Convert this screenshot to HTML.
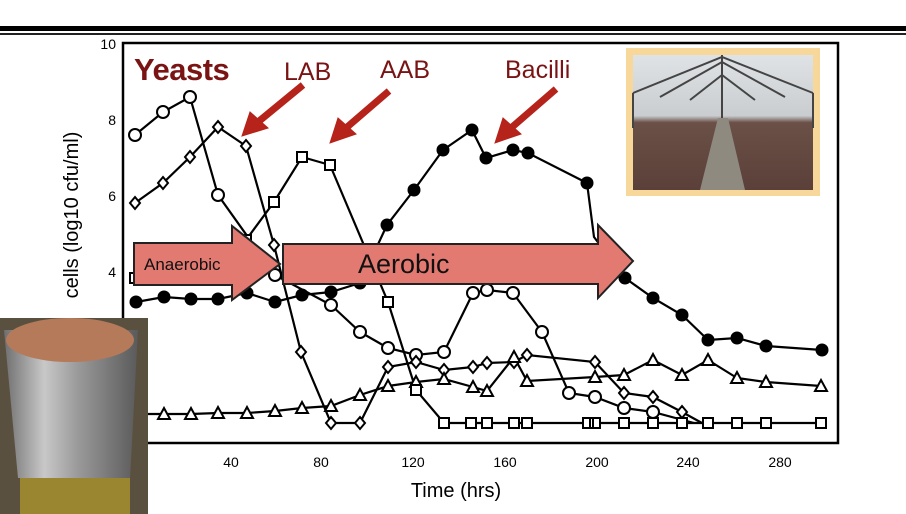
<!DOCTYPE html>
<html><head><meta charset="utf-8"><style>
html,body{margin:0;padding:0;background:#fff;width:906px;height:514px;overflow:hidden}
svg{display:block}
text{font-family:"Liberation Sans",sans-serif}
</style></head><body>
<svg width="906" height="514" viewBox="0 0 906 514" xmlns="http://www.w3.org/2000/svg">
<defs>
<linearGradient id="sky" x1="0" y1="0" x2="0" y2="1"><stop offset="0" stop-color="#dfe3e6"/><stop offset="0.45" stop-color="#c9cdd0"/><stop offset="0.5" stop-color="#6b5048"/><stop offset="1" stop-color="#5a4038"/></linearGradient>
<linearGradient id="can" x1="0" y1="0" x2="1" y2="0"><stop offset="0" stop-color="#6f6f6f"/><stop offset="0.3" stop-color="#c8c8c8"/><stop offset="0.55" stop-color="#9a9a9a"/><stop offset="1" stop-color="#5a5a5a"/></linearGradient>
</defs>
<rect x="0" y="26" width="906" height="5" fill="#000"/>
<rect x="0" y="33" width="906" height="2" fill="#222"/>
<rect x="123" y="43" width="715" height="400" fill="none" stroke="#000" stroke-width="2.5"/>
<g font-size="14" fill="#000" text-anchor="end">
<text x="116" y="49">10</text><text x="116" y="125">8</text><text x="116" y="201">6</text><text x="116" y="277">4</text>
</g>
<g font-size="14" fill="#000" text-anchor="middle">
<text x="231" y="467">40</text><text x="321" y="467">80</text><text x="413" y="467">120</text><text x="505" y="467">160</text><text x="597" y="467">200</text><text x="688" y="467">240</text><text x="780" y="467">280</text>
</g>
<text x="456" y="497" font-size="20" text-anchor="middle">Time (hrs)</text>
<text transform="translate(78,215) rotate(-90)" font-size="20" text-anchor="middle">cells (log10 cfu/ml)</text>
<g fill="none" stroke="#000" stroke-width="2.2">
<polyline points="135,135 163,112 190,97 218,195 275,275 331,305 360,332 388,348 416,355 444,352 473,293 487,290 513,293 542,332 569,393 595,397 624,408 653,412 694,423"/>
<polyline points="135,203 163,183 190,157 218,127 246,146 274,245 301,352 331,423 360,423 388,367 416,362 444,370 473,367 487,363 514,362 527,355 595,362 624,393 653,397 682,412 702,423"/>
<polyline points="136,414 164,414 191,414 218,413 247,413 275,411 302,408 331,406 360,395 388,386 416,382 444,379 473,387 487,391 514,357 527,381 595,377 624,375 653,360 682,375 708,360 737,378 766,382 821,386"/>
<polyline points="135,278 163,276 190,270 218,262 246,240 274,202 302,157 330,165 388,302 416,390 444,423 821,423"/>
<polyline points="136,302 164,297 191,299 218,299 247,293 275,302 302,295 331,292 360,283 387,225 414,190 443,150 472,130 486,158 513,150 528,153 587,183 594,237 625,278 653,298 682,315 708,340 737,338 766,346 822,350"/>
</g>
<g fill="#fff" stroke="#000" stroke-width="2">
<circle cx="135" cy="135" r="6"/><circle cx="163" cy="112" r="6"/><circle cx="190" cy="97" r="6"/><circle cx="218" cy="195" r="6"/><circle cx="275" cy="275" r="6"/><circle cx="331" cy="305" r="6"/><circle cx="360" cy="332" r="6"/><circle cx="388" cy="348" r="6"/><circle cx="416" cy="355" r="6"/><circle cx="444" cy="352" r="6"/><circle cx="473" cy="293" r="6"/><circle cx="487" cy="290" r="6"/><circle cx="513" cy="293" r="6"/><circle cx="542" cy="332" r="6"/><circle cx="569" cy="393" r="6"/><circle cx="595" cy="397" r="6"/><circle cx="624" cy="408" r="6"/><circle cx="653" cy="412" r="6"/>
<path d="M135,197l5,6l-5,6l-5,-6z M163,177l5,6l-5,6l-5,-6z M190,151l5,6l-5,6l-5,-6z M218,121l5,6l-5,6l-5,-6z M246,140l5,6l-5,6l-5,-6z M274,239l5,6l-5,6l-5,-6z M301,346l5,6l-5,6l-5,-6z M331,417l5,6l-5,6l-5,-6z M360,417l5,6l-5,6l-5,-6z M388,361l5,6l-5,6l-5,-6z M416,356l5,6l-5,6l-5,-6z M444,364l5,6l-5,6l-5,-6z M473,361l5,6l-5,6l-5,-6z M487,357l5,6l-5,6l-5,-6z M514,356l5,6l-5,6l-5,-6z M527,349l5,6l-5,6l-5,-6z M595,356l5,6l-5,6l-5,-6z M624,387l5,6l-5,6l-5,-6z M653,391l5,6l-5,6l-5,-6z M682,406l5,6l-5,6l-5,-6z"/>
<path d="M136,408l6,11h-12z M164,408l6,11h-12z M191,408l6,11h-12z M218,407l6,11h-12z M247,407l6,11h-12z M275,405l6,11h-12z M302,402l6,11h-12z M331,400l6,11h-12z M360,389l6,11h-12z M388,380l6,11h-12z M416,376l6,11h-12z M444,373l6,11h-12z M473,381l6,11h-12z M487,385l6,11h-12z M514,351l6,11h-12z M527,375l6,11h-12z M595,371l6,11h-12z M624,369l6,11h-12z M653,354l6,11h-12z M682,369l6,11h-12z M708,354l6,11h-12z M737,372l6,11h-12z M766,376l6,11h-12z M821,380l6,11h-12z"/>
<path d="M130,273h10v10h-10z M241,235h10v10h-10z M269,197h10v10h-10z M297,152h10v10h-10z M325,160h10v10h-10z M383,297h10v10h-10z M411,385h10v10h-10z M439,418h10v10h-10z M466,418h10v10h-10z M482,418h10v10h-10z M509,418h10v10h-10z M522,418h10v10h-10z M583,418h10v10h-10z M590,418h10v10h-10z M619,418h10v10h-10z M648,418h10v10h-10z M677,418h10v10h-10z M703,418h10v10h-10z M732,418h10v10h-10z M761,418h10v10h-10z M816,418h10v10h-10z"/>
</g>
<g fill="#000">
<circle cx="136" cy="302" r="6.5"/><circle cx="164" cy="297" r="6.5"/><circle cx="191" cy="299" r="6.5"/><circle cx="218" cy="299" r="6.5"/><circle cx="247" cy="293" r="6.5"/><circle cx="275" cy="302" r="6.5"/><circle cx="302" cy="295" r="6.5"/><circle cx="331" cy="292" r="6.5"/><circle cx="360" cy="283" r="6.5"/><circle cx="387" cy="225" r="6.5"/><circle cx="414" cy="190" r="6.5"/><circle cx="443" cy="150" r="6.5"/><circle cx="472" cy="130" r="6.5"/><circle cx="486" cy="158" r="6.5"/><circle cx="513" cy="150" r="6.5"/><circle cx="528" cy="153" r="6.5"/><circle cx="587" cy="183" r="6.5"/><circle cx="625" cy="278" r="6.5"/><circle cx="653" cy="298" r="6.5"/><circle cx="682" cy="315" r="6.5"/><circle cx="708" cy="340" r="6.5"/><circle cx="737" cy="338" r="6.5"/><circle cx="766" cy="346" r="6.5"/><circle cx="822" cy="350" r="6.5"/>
</g>
<path d="M134,243H232V226L280,264L232,300V285H134Z" fill="#e27a72" stroke="#222" stroke-width="2"/>
<text x="144" y="270" font-size="17" fill="#111">Anaerobic</text>
<path d="M283,244H598V225L633,261L598,298V284H283Z" fill="#e27a72" stroke="#222" stroke-width="2"/>
<text x="358" y="273" font-size="27" fill="#111">Aerobic</text>
<g fill="#7a1414">
<text x="134" y="80" font-size="31" font-weight="bold" letter-spacing="-0.5">Yeasts</text>
<text x="284" y="80" font-size="25">LAB</text>
<text x="380" y="78" font-size="25">AAB</text>
<text x="505" y="78" font-size="25">Bacilli</text>
</g>
<g stroke="#b5231b" stroke-width="7" fill="#b5231b">
<line x1="303" y1="85" x2="258" y2="122"/><path d="M242,136L250,112L268,128Z" stroke-width="1"/>
<line x1="389" y1="91" x2="346" y2="128"/><path d="M330,143L338,118L356,134Z" stroke-width="1"/>
<line x1="556" y1="89" x2="511" y2="128"/><path d="M495,143L503,118L521,134Z" stroke-width="1"/>
</g>
<rect x="626" y="48" width="194" height="148" fill="#f7d79a"/>
<rect x="633" y="55" width="180" height="135" fill="url(#sky)"/>
<g stroke="#444" stroke-width="2" fill="none">
<path d="M633,93L722,57L813,93 M633,93V128 M813,93V128 M660,97L722,62L785,97 M690,100L722,75L755,100 M722,128V55"/>
</g>
<path d="M700,190L718,118H728L745,190Z" fill="#8f8a80"/>
<rect x="0" y="318" width="148" height="196" fill="#5a5040"/>
<path d="M4,330H138L130,478H18Z" fill="url(#can)"/>
<ellipse cx="70" cy="340" rx="64" ry="22" fill="#b57a5a"/>
<rect x="20" y="478" width="110" height="36" fill="#9a8530"/>
</svg>
</body></html>
